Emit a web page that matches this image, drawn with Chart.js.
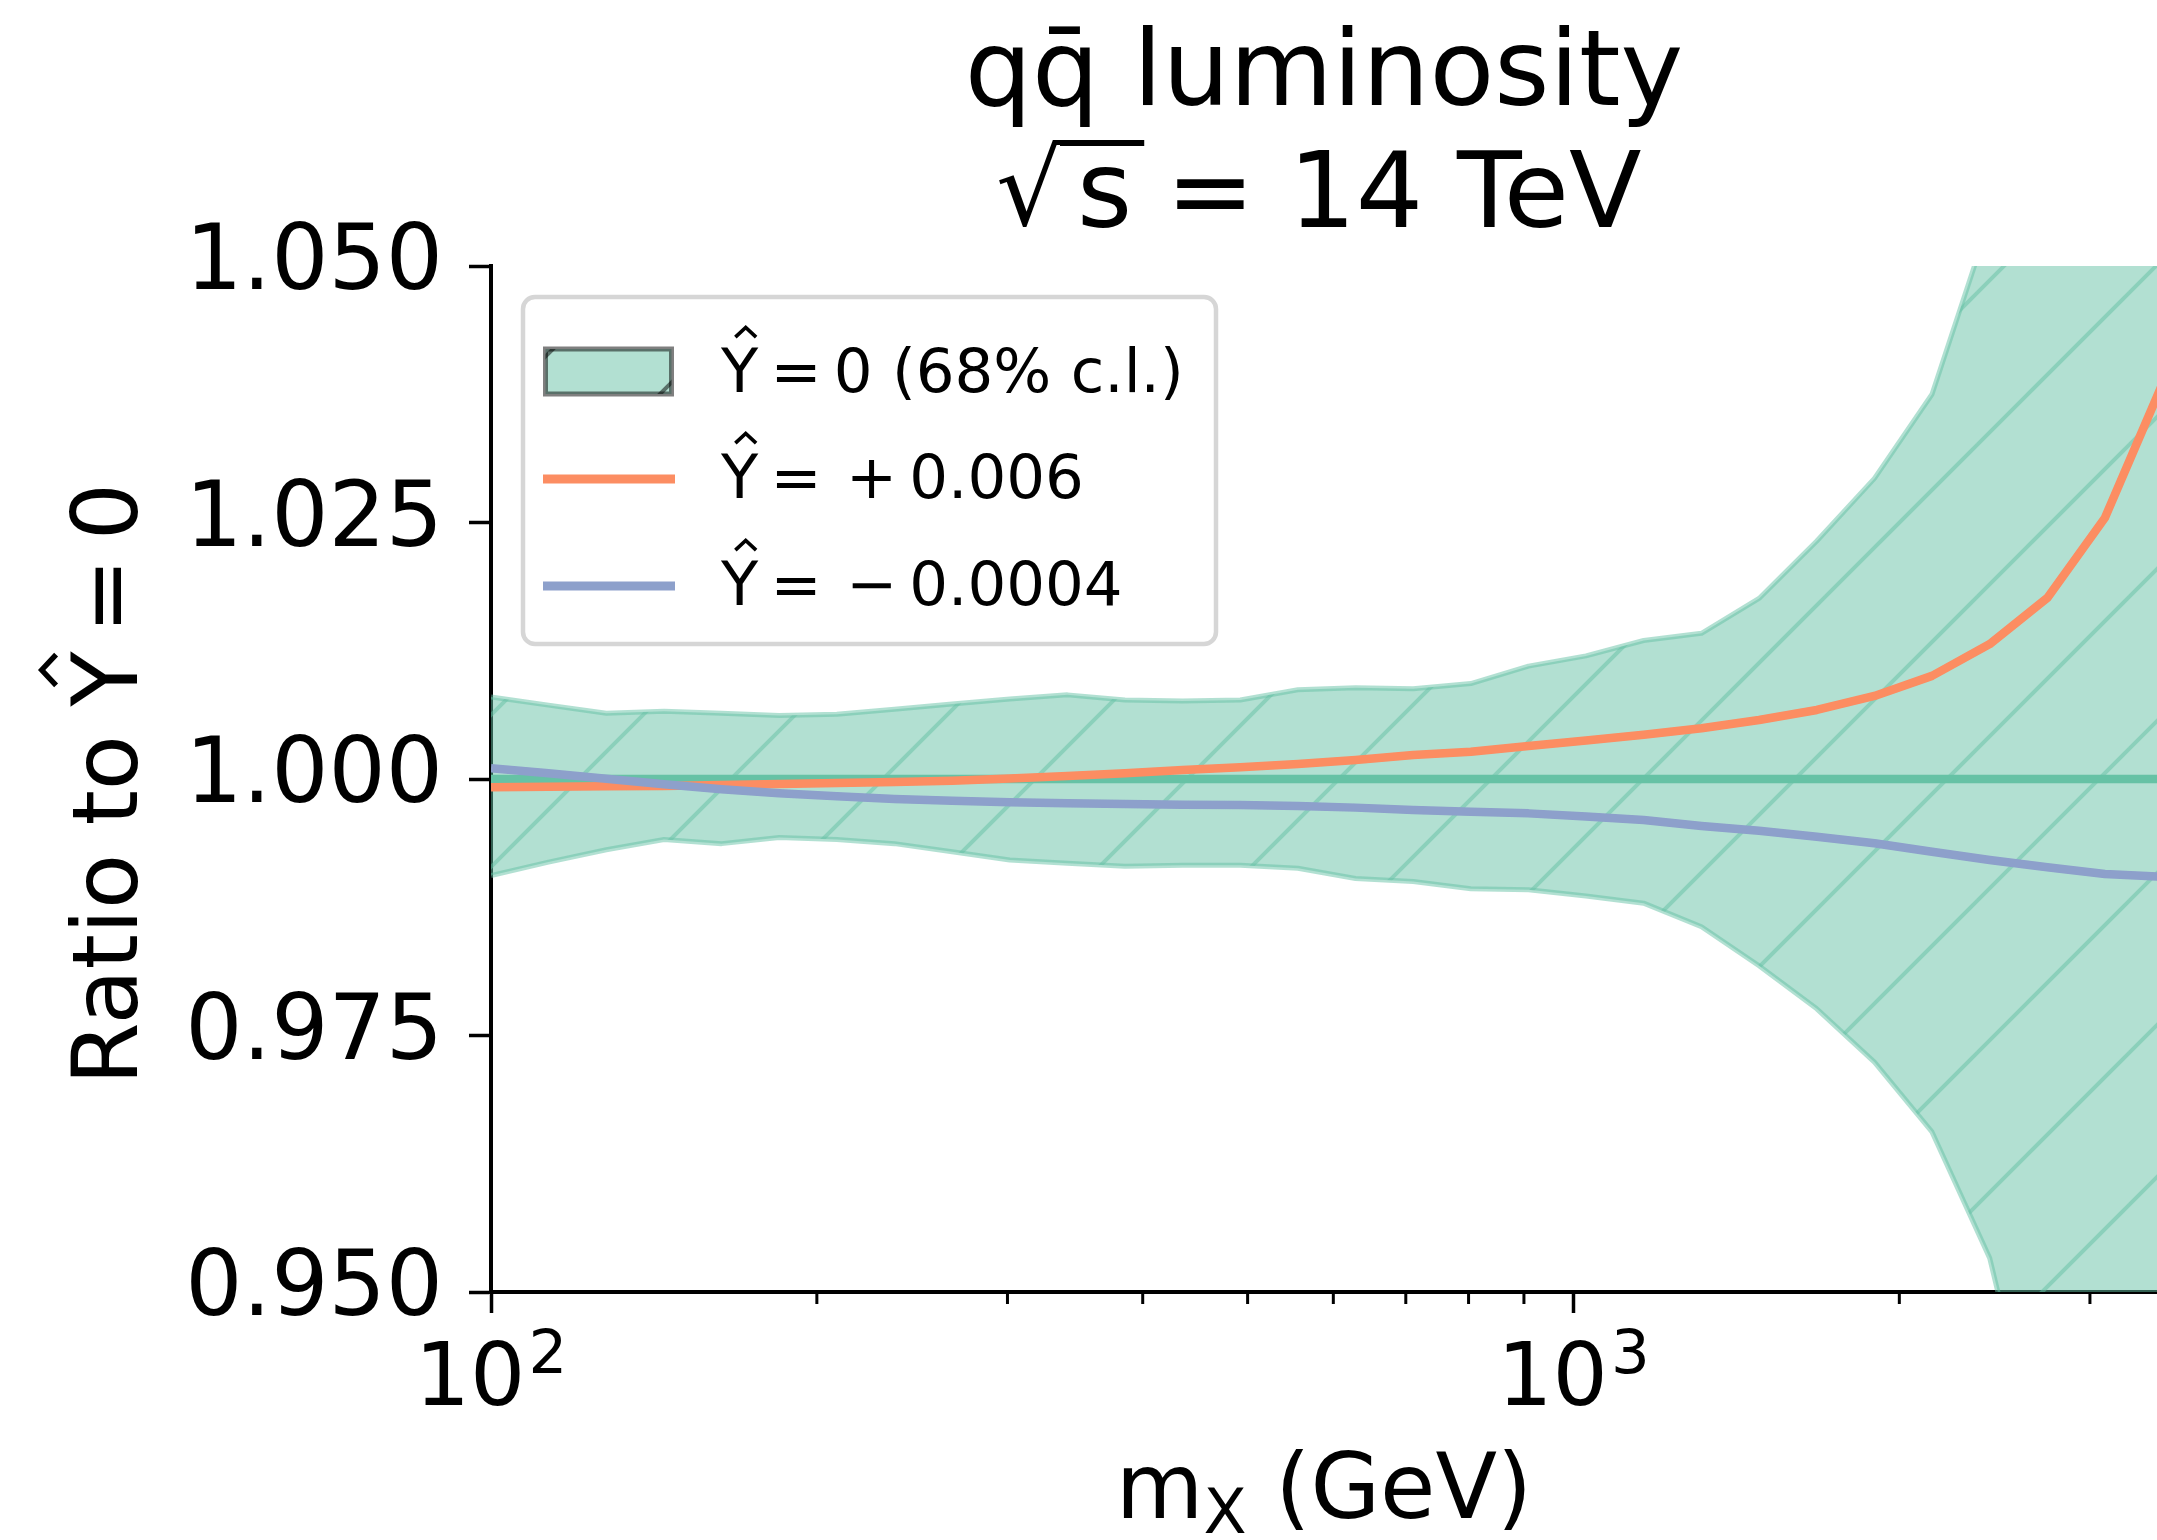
<!DOCTYPE html>
<html>
<head>
<meta charset="utf-8">
<title>qq̄ luminosity ratio</title>
<script src="https://cdn.jsdelivr.net/npm/chart.js@4.4.1/dist/chart.umd.min.js"></script>
<style>
  html, body { margin: 0; padding: 0; background: #fff; overflow: hidden; }
  #wrap { width: 2157px; height: 1540px; }
</style>
</head>
<body>
<div id="wrap"><canvas id="lumi" width="2157" height="1540"></canvas></div>
<script>
// ---- data ----
const massGeV = [100, 113.0, 127.8, 144.5, 163.3, 184.6, 208.7, 235.9, 266.7, 301.5,
                 340.8, 385.2, 435.5, 492.3, 556.5, 629.1, 711.1, 803.9, 908.8, 1027,
                 1161, 1313, 1484, 1678, 1897, 2144, 2424, 2740, 3097, 3500];

// Ŷ = 0, 68% c.l. band
const bandUpper = [1.0080, 1.0072, 1.0064, 1.0066, 1.0064, 1.0062, 1.0063, 1.0068, 1.0073, 1.0078,
                   1.0082, 1.0077, 1.0076, 1.0077, 1.0087, 1.0089, 1.0088, 1.0093, 1.0110, 1.0120,
                   1.0135, 1.0142, 1.0176, 1.0232, 1.0293, 1.0375, 1.0545, 1.0720, 1.0900, 1.1100];
const bandLower = [0.9906, 0.9919, 0.9931, 0.9941, 0.9937, 0.9943, 0.9941, 0.9937, 0.9929, 0.9921,
                   0.9918, 0.9915, 0.9916, 0.9916, 0.9913, 0.9903, 0.9900, 0.9893, 0.9892, 0.9886,
                   0.9879, 0.9856, 0.9818, 0.9776, 0.9724, 0.9656, 0.9533, 0.9300, 0.9050, 0.8800];

// central value line
const centralMass = [100, 3500];
const centralRatio = [1.0, 1.0];

// Ŷ = +0.006
const ratioPlus = [0.99920, 0.99925, 0.99929, 0.99932, 0.99941, 0.99951, 0.99961, 0.99971, 0.99984, 1.00005,
                   1.00029, 1.00055, 1.00088, 1.00114, 1.00146, 1.00185, 1.00234, 1.00266, 1.00322, 1.00375,
                   1.00432, 1.00494, 1.00575, 1.00673, 1.00810, 1.01005, 1.01315, 1.01765, 1.02545, 1.03850];
// Ŷ = -0.0004
const ratioMinus = [1.00104, 1.00055, 1.00003, 0.99948, 0.99900, 0.99861, 0.99831, 0.99805, 0.99789, 0.99774,
                    0.99763, 0.99756, 0.99750, 0.99746, 0.99737, 0.99721, 0.99698, 0.99681, 0.99665, 0.99635,
                    0.99600, 0.99542, 0.99496, 0.99438, 0.99373, 0.99291, 0.99210, 0.99139, 0.99074, 0.99047];

const yTicks = [0.950, 0.975, 1.000, 1.025, 1.050];
const xTicks = [100, 200, 300, 400, 500, 600, 700, 800, 900, 1000, 2000, 3000];
const xMajorTicks = [100, 1000];

// thin spaces (U+2009) stand in for mathtext spacing
const titleLines = ['qq̄ luminosity', '√s = 14 TeV'];
const yTitle = 'Ratio to Ŷ\u2009=\u20090';
const legendLabels = ['Ŷ\u2009=\u20090 (68% c.l.)', 'Ŷ\u2009=\u2009\u2009+\u20090.006', 'Ŷ\u2009=\u2009\u2009\u2212\u20090.0004'];

// ---- style ----
const GREEN = '#66c2a5';
const ORANGE = '#fc8d62';
const BLUE = '#8da0cb';
const GREEN_HALF = 'rgba(102,194,165,0.5)';
const FONT = '"DejaVu Sans"';
const HATCH_STEP = 152, HATCH_PHASE = 142;

Chart.defaults.font.family = FONT;
Chart.defaults.color = '#000';

const canvas = document.getElementById('lumi');
const mainCtx = canvas.getContext('2d');

// '/' hatch like matplotlib, anchored to the canvas origin
function makeHatch() {
  const t = document.createElement('canvas');
  t.width = HATCH_STEP; t.height = HATCH_STEP;
  const g = t.getContext('2d');
  g.fillStyle = GREEN_HALF;
  g.fillRect(0, 0, HATCH_STEP, HATCH_STEP);
  g.strokeStyle = GREEN_HALF;
  g.lineWidth = 4;
  for (const k of [-1, 0, 1]) {
    const s = HATCH_PHASE + k * HATCH_STEP;
    g.beginPath();
    g.moveTo(s + 20, -20);
    g.lineTo(-20, s + 20);
    g.stroke();
  }
  return mainCtx.createPattern(t, 'repeat');
}

const xy = (xs, ys) => xs.map((x, i) => ({ x, y: ys[i] }));

function lineSet(label, xs, ys, color, width, order, extra) {
  return Object.assign({
    label, data: xy(xs, ys), borderColor: color, borderWidth: width,
    pointRadius: 0, tension: 0, fill: false, clip: 0, order,
    borderJoinStyle: 'round'
  }, extra || {});
}

// text with a floating hat over Y, like mathtext \hat{Y}
function textWidth(ctx, str, size) {
  ctx.font = size + 'px ' + FONT;
  return ctx.measureText(str.replace(/Ŷ/g, 'Y')).width;
}
function drawHatText(ctx, str, x, y, size) {
  ctx.font = size + 'px ' + FONT;
  ctx.textAlign = 'left';
  ctx.textBaseline = 'alphabetic';
  let cur = x;
  for (const part of str.split(/(Ŷ)/)) {
    if (!part) continue;
    if (part === 'Ŷ') {
      const w = ctx.measureText('Y').width;
      ctx.fillText('Y', cur, y);
      const hx = cur + w / 2 + 0.1 * size;
      const hy = y - 0.729 * size - 0.17 * size;
      ctx.beginPath();
      ctx.moveTo(hx - 0.17 * size, hy);
      ctx.lineTo(hx, hy - 0.16 * size);
      ctx.lineTo(hx + 0.17 * size, hy);
      ctx.lineWidth = 0.06 * size;
      ctx.strokeStyle = ctx.fillStyle;
      ctx.stroke();
      cur += w;
    } else {
      ctx.fillText(part, cur, y);
      cur += ctx.measureText(part).width;
    }
  }
  return cur - x;
}

const decor = {
  id: 'decor',
  afterDraw(chart) {
    const ctx = chart.ctx;
    const area = chart.chartArea;
    const xs = chart.scales.x;
    const cx = (area.left + area.right) / 2;
    ctx.save();
    ctx.fillStyle = '#000';
    ctx.strokeStyle = '#000';
    ctx.textBaseline = 'alphabetic';

    // title, line 1
    ctx.font = '106px ' + FONT;
    ctx.textAlign = 'center';
    ctx.fillText(titleLines[0], cx, 105);

    // title, line 2: radical stretched to the mathtext size, then s with an overbar
    const parts = titleLines[1].split(/(s)/);   // ['√', 's', ' = 14 TeV']
    ctx.textAlign = 'left';
    const base2 = 227;
    const radLeft = cx - 325, radW = 64, radTop = 140, radBottom = 228;
    const m = ctx.measureText(parts[0]);
    const sx = radW / (m.actualBoundingBoxLeft + m.actualBoundingBoxRight);
    const sy = (radBottom - radTop) / (m.actualBoundingBoxAscent + m.actualBoundingBoxDescent);
    ctx.save();
    ctx.translate(radLeft + m.actualBoundingBoxLeft * sx, radTop + m.actualBoundingBoxAscent * sy);
    ctx.scale(sx, sy);
    ctx.fillText(parts[0], 0, 0);
    ctx.restore();
    const sStart = radLeft + 78;
    const wS = ctx.measureText(parts[1]).width;
    ctx.fillText(parts[1], sStart, base2);
    ctx.fillRect(radLeft + radW - 3, radTop, sStart + wS + 12 - (radLeft + radW - 3), 6);
    ctx.fillText(parts[2], sStart + wS, base2);

    // minor x ticks
    ctx.lineWidth = 3;
    for (const v of xTicks) {
      if (xMajorTicks.includes(v)) continue;
      const px = xs.getPixelForValue(v);
      ctx.beginPath();
      ctx.moveTo(px, area.bottom);
      ctx.lineTo(px, area.bottom + 12);
      ctx.stroke();
    }

    // major x tick labels as 10^n
    for (const v of xMajorTicks) {
      const px = xs.getPixelForValue(v);
      const exp = String(Math.round(Math.log10(v)));
      ctx.font = '87px ' + FONT;
      const wb = ctx.measureText('10').width;
      ctx.font = '61px ' + FONT;
      const we = ctx.measureText(exp).width;
      const lx0 = px - (wb + 3 + we) / 2;
      ctx.font = '87px ' + FONT;
      ctx.fillText('10', lx0, 1405);
      ctx.font = '61px ' + FONT;
      ctx.fillText(exp, lx0 + wb + 3, 1373);
    }

    // x axis title: m_X (GeV)
    ctx.font = '90px ' + FONT;
    const wm = ctx.measureText('m').width;
    const wg = ctx.measureText(' (GeV)').width;
    ctx.font = '63px ' + FONT;
    const wx = ctx.measureText('X').width;
    const tx = cx - (wm + wx + wg) / 2;
    ctx.font = '90px ' + FONT;
    ctx.fillText('m', tx, 1518);
    ctx.font = '63px ' + FONT;
    ctx.fillText('X', tx + wm, 1533);
    ctx.font = '90px ' + FONT;
    ctx.fillText(' (GeV)', tx + wm + wx, 1518);

    // y axis title, rotated
    ctx.save();
    ctx.translate(137, (area.top + area.bottom) / 2 + 5);
    ctx.rotate(-Math.PI / 2);
    const wy = textWidth(ctx, yTitle, 90);
    drawHatText(ctx, yTitle, -wy / 2, 0, 90);
    ctx.restore();

    // legend
    const lx = area.left + 32, ly = area.top + 31;
    ctx.beginPath();
    ctx.roundRect(lx, ly, 693, 347, 12);
    ctx.fillStyle = '#fff';
    ctx.fill();
    ctx.lineWidth = 4.5;
    ctx.strokeStyle = '#d6d6d6';
    ctx.stroke();

    // band handle
    const px0 = lx + 22.5, py0 = ly + 52, pw = 126, ph = 45;
    ctx.save();
    ctx.beginPath();
    ctx.rect(px0, py0, pw, ph);
    ctx.fillStyle = GREEN_HALF;
    ctx.fill();
    ctx.clip();
    ctx.strokeStyle = 'rgba(0,0,0,0.5)';
    ctx.lineWidth = 4;
    for (let k = 0; k < 12; k++) {
      const s = HATCH_PHASE + k * HATCH_STEP;
      ctx.beginPath();
      ctx.moveTo(s + 20, -20);
      ctx.lineTo(-20, s + 20);
      ctx.stroke();
    }
    ctx.restore();
    ctx.strokeStyle = 'rgba(0,0,0,0.5)';
    ctx.lineWidth = 5;
    ctx.strokeRect(px0, py0, pw, ph);

    // line handles
    ctx.lineWidth = 9;
    ctx.strokeStyle = ORANGE;
    ctx.beginPath(); ctx.moveTo(lx + 20, ly + 182); ctx.lineTo(lx + 152, ly + 182); ctx.stroke();
    ctx.strokeStyle = BLUE;
    ctx.beginPath(); ctx.moveTo(lx + 20, ly + 289); ctx.lineTo(lx + 152, ly + 289); ctx.stroke();

    ctx.fillStyle = '#000';
    const baselines = [ly + 95, ly + 201, ly + 308];
    legendLabels.forEach((lab, i) => drawHatText(ctx, lab, lx + 198, baselines[i], 61));

    ctx.restore();
  }
};

const hatch = makeHatch();

new Chart(canvas, {
  type: 'line',
  data: {
    datasets: [
      lineSet('band upper', massGeV, bandUpper, GREEN_HALF, 5, 4, { fill: '+1', backgroundColor: hatch }),
      lineSet('band lower', massGeV, bandLower, GREEN_HALF, 5, 3),
      lineSet('Ŷ = 0', centralMass, centralRatio, GREEN, 8.5, 2),
      lineSet('Ŷ = +0.006', massGeV, ratioPlus, ORANGE, 8.5, 1),
      lineSet('Ŷ = -0.0004', massGeV, ratioMinus, BLUE, 8.5, 0)
    ]
  },
  options: {
    responsive: false,
    devicePixelRatio: 1,
    animation: false,
    events: [],
    layout: { padding: { top: 266, left: 0, right: 0, bottom: 0 } },
    plugins: {
      legend: { display: false },
      title: { display: false },
      tooltip: { enabled: false },
      filler: { propagate: false }
    },
    scales: {
      x: {
        type: 'logarithmic',
        position: 'bottom',
        min: 100,
        max: 3460,
        bounds: 'data',
        z: 1,
        afterBuildTicks: s => { s.ticks = xTicks.map(v => ({ value: v, major: xMajorTicks.includes(v) })); },
        afterFit: s => { s.height = 1540 - 1292; },
        ticks: { display: false },
        grid: {
          drawOnChartArea: false,
          tickLength: 21,
          tickWidth: 3.5,
          tickColor: c => (c.tick && c.tick.major) ? '#000' : 'rgba(0,0,0,0)'
        },
        border: { display: true, color: '#000', width: 4 }
      },
      y: {
        type: 'linear',
        min: 0.95,
        max: 1.05,
        bounds: 'data',
        z: 1,
        afterBuildTicks: s => { s.ticks = yTicks.map(v => ({ value: v })); },
        afterFit: s => { s.width = 491; },
        ticks: {
          callback: v => v.toFixed(3),
          font: { size: 90 },
          color: '#000',
          padding: 26,
          labelOffset: 0,
          autoSkip: false
        },
        grid: { drawOnChartArea: false, tickLength: 22, tickWidth: 3.5, tickColor: '#000' },
        border: { display: true, color: '#000', width: 4 }
      }
    }
  },
  plugins: [decor]
});
</script>
</body>
</html>
